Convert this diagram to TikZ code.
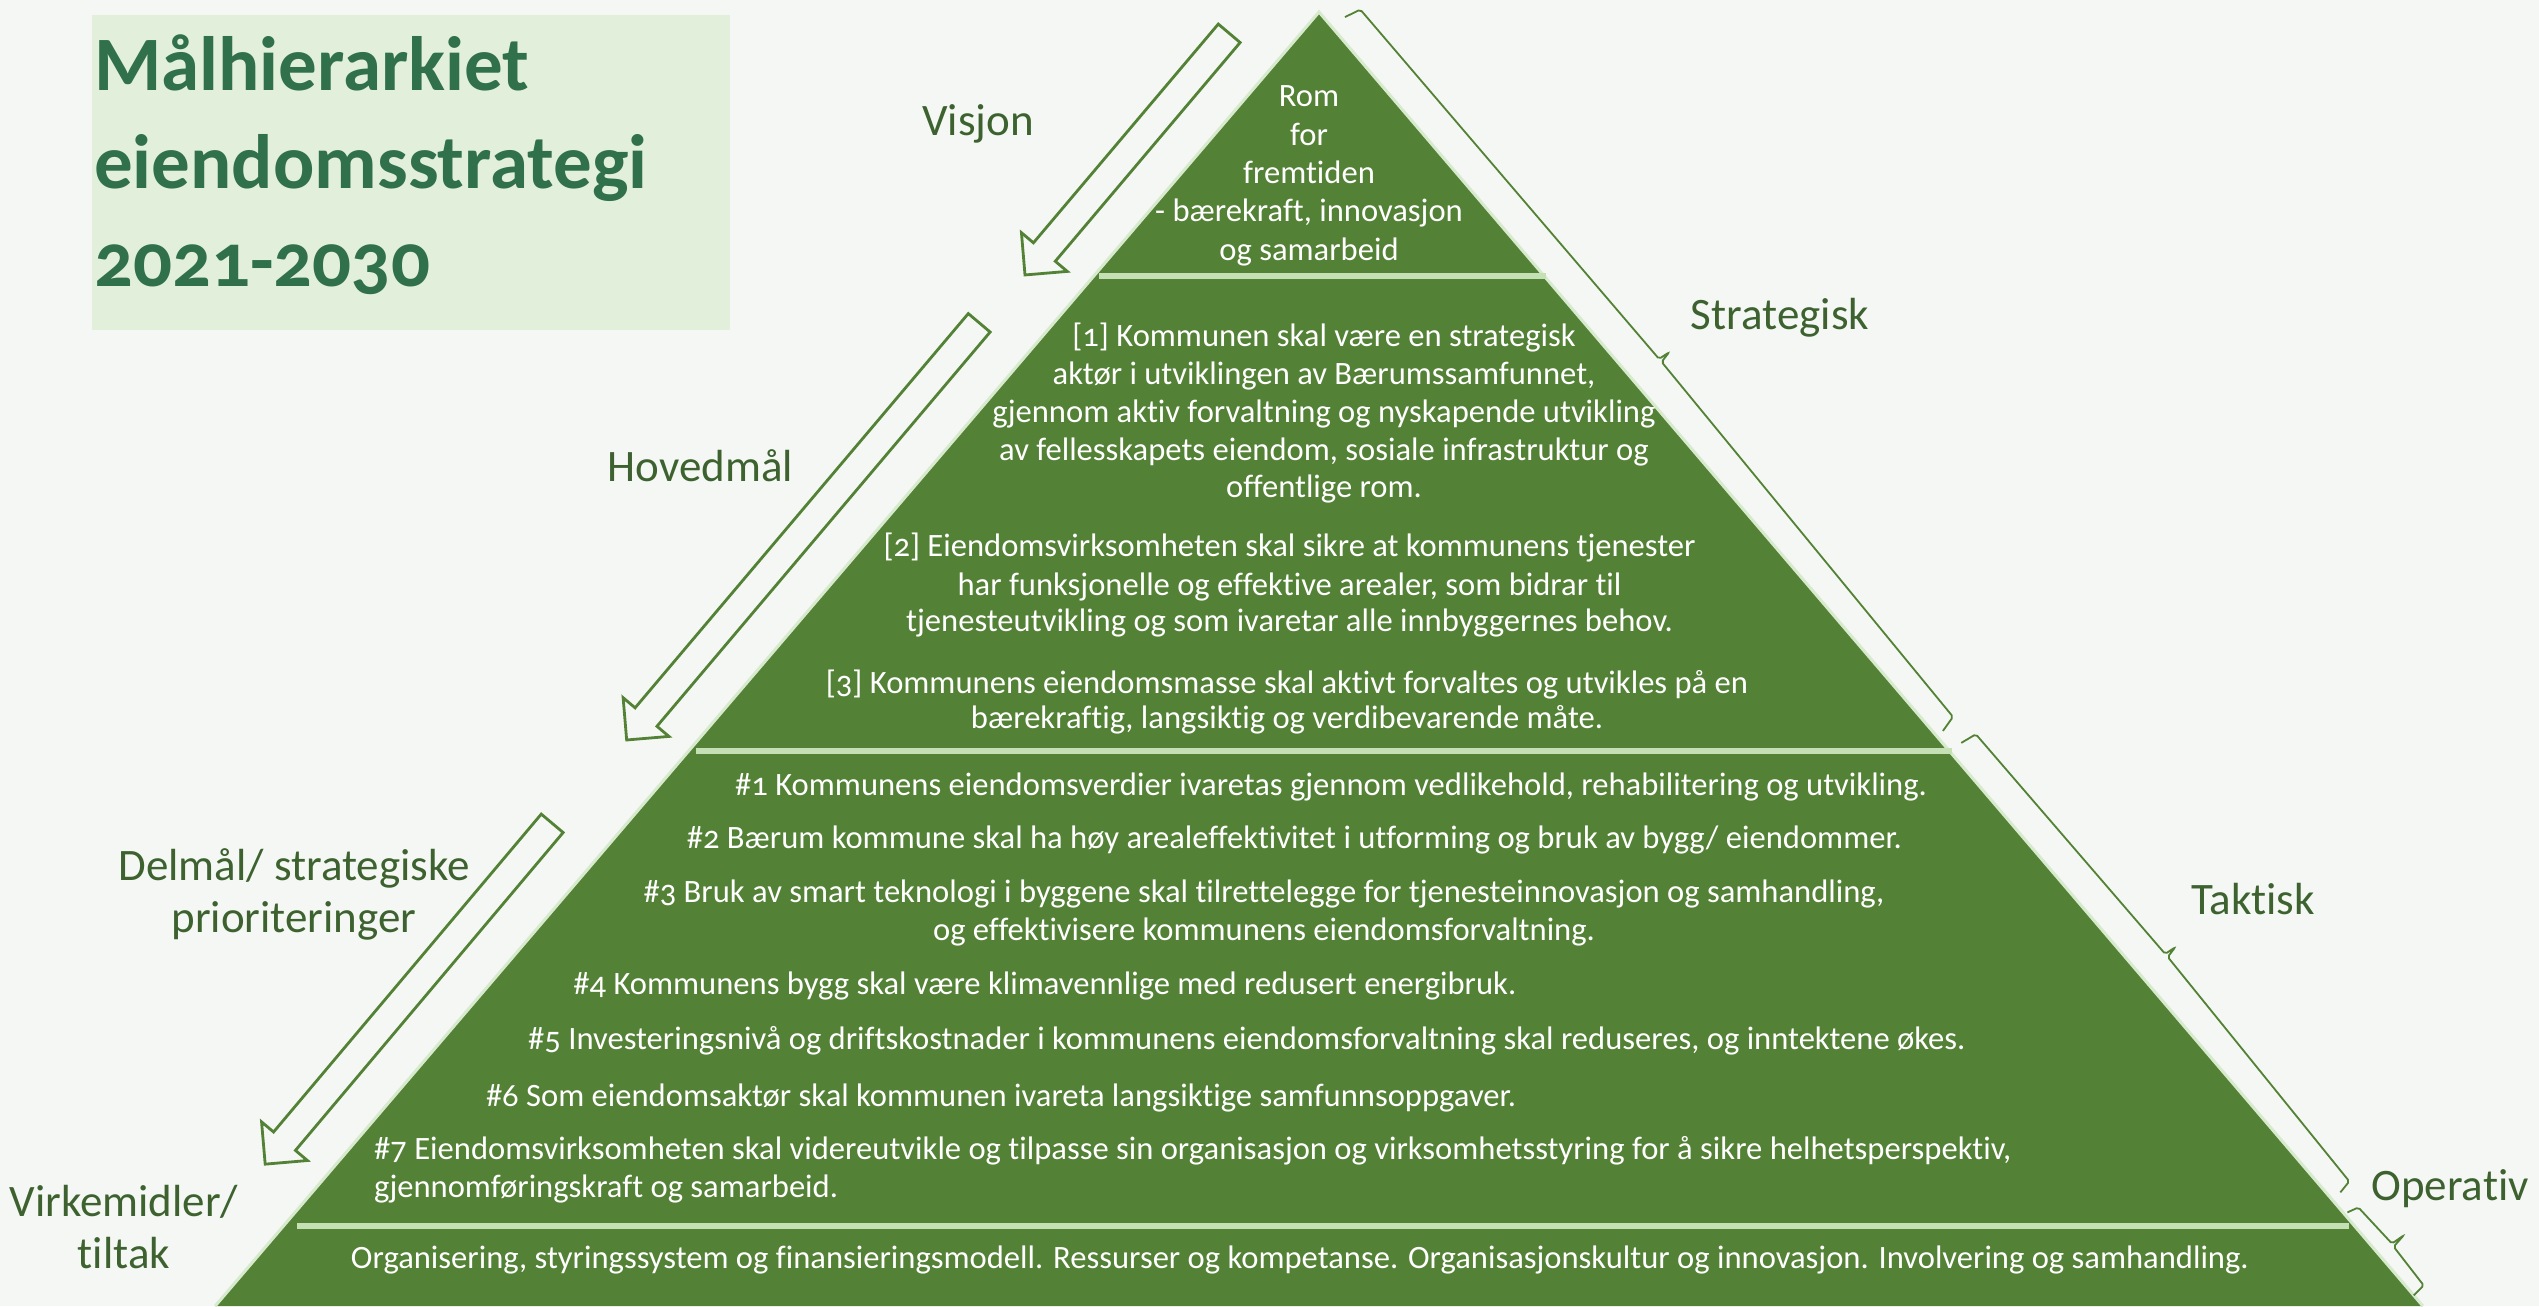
\documentclass[tikz,border=0pt]{standalone}
\usepackage{fontspec}
\setmainfont{Carlito}[Numbers=OldStyle, Ligatures={NoCommon,NoRare,NoContextual}]
\usetikzlibrary{calc}
\definecolor{bg}{HTML}{F4F7F3}
\definecolor{titlebox}{HTML}{E2EFDA}
\definecolor{titlegreen}{HTML}{30704A}
\definecolor{labelgreen}{HTML}{3D6230}
\definecolor{pyr}{HTML}{538135}
\definecolor{sep}{HTML}{C5E0B4}
\definecolor{pyredge}{HTML}{D8EACE}
\begin{document}
\begin{tikzpicture}[x=1pt,y=-1pt,
  tri/.style={white, font=\fontsize{32.6}{38}\selectfont, inner sep=0pt, anchor=base},
  triw/.style={tri, anchor=base west},
  lbl/.style={labelgreen, font=\fontsize{45}{52}\selectfont, inner sep=0pt, anchor=base},
  ttl/.style={titlegreen, font=\fontsize{77}{98}\selectfont\bfseries, inner sep=0pt, anchor=base west},
  sepline/.style={sep, line width=6pt},
  blockarrow/.style={draw=pyr, line width=2.8pt, fill=bg, line join=miter},
  bracestyle/.style={draw=pyr, line width=1.8pt, rounded corners=2pt},
]
\useasboundingbox (0,0) rectangle (2539,1306);
\fill[bg] (0,0) rectangle (2539,1306);

% title
\fill[titlebox] (92,15) rectangle (730,330);
\node[ttl] (t1) at (94,90) {Målhierarkiet};
\node[ttl] (t2) at (94,188.3) {eiendomsstrategi};
\node[ttl] (t3) at (94,286.7) {2021-2030};

% pyramid
\fill[pyr] (1319,12) -- (2422.8,1306) -- (215.2,1306) -- cycle;
\draw[pyredge, line width=3pt] (215.2,1306) -- (1319,12) -- (2422.8,1306);
\draw[sepline] (1099,276) -- (1546,276);
\draw[sepline] (696,751) -- (1952,751);
\draw[sepline] (297,1226) -- (2349,1226);

% vision
\node[tri] (v1) at (1309,106.7) {Rom};
\node[tri] (v2) at (1309,145) {for};
\node[tri] (v3) at (1309,183.3) {fremtiden};
\node[tri] (v4) at (1309,221.7) {- bærekraft, innovasjon};
\node[tri] (v5) at (1309,260) {og samarbeid};

% main goals
\node[tri] (h11) at (1324,346) {[1] Kommunen skal være en strategisk};
\node[tri] (h12) at (1324,384) {aktør i utviklingen av Bærumssamfunnet,};
\node[tri] (h13) at (1324,422) {gjennom aktiv forvaltning og nyskapende utvikling};
\node[tri] (h14) at (1324,460) {av fellesskapets eiendom, sosiale infrastruktur og};
\node[tri] (h15) at (1324,497) {offentlige rom.};
\node[tri] (h21) at (1289.5,556.7) {[2] Eiendomsvirksomheten skal sikre at kommunens tjenester};
\node[tri] (h22) at (1289.5,595) {har funksjonelle og effektive arealer, som bidrar til};
\node[tri] (h23) at (1289.5,631.7) {tjenesteutvikling og som ivaretar alle innbyggernes behov.};
\node[tri] (h31) at (1287,693.3) {[3] Kommunens eiendomsmasse skal aktivt forvaltes og utvikles på en};
\node[tri] (h32) at (1287,728.3) {bærekraftig, langsiktig og verdibevarende måte.};

% sub goals
\node[triw] (d1) at (735,795) {\#1 Kommunens eiendomsverdier ivaretas gjennom vedlikehold, rehabilitering og utvikling.};
\node[triw] (d2) at (686.6,848) {\#2 Bærum kommune skal ha høy arealeffektivitet i utforming og bruk av bygg/ eiendommer.};
\node[tri] (d31) at (1264,902) {\#3 Bruk av smart teknologi i byggene skal tilrettelegge for tjenesteinnovasjon og samhandling,};
\node[tri] (d32) at (1264,940) {og effektivisere kommunens eiendomsforvaltning.};
\node[triw] (d4) at (573.2,994) {\#4 Kommunens bygg skal være klimavennlige med redusert energibruk.};
\node[triw] (d5) at (528,1049) {\#5 Investeringsnivå og driftskostnader i kommunens eiendomsforvaltning skal reduseres, og inntektene økes.};
\node[triw] (d6) at (485.8,1106) {\#6 Som eiendomsaktør skal kommunen ivareta langsiktige samfunnsoppgaver.};
\node[triw] (d71) at (374,1159) {\#7 Eiendomsvirksomheten skal videreutvikle og tilpasse sin organisasjon og virksomhetsstyring for å sikre helhetsperspektiv,};
\node[triw] (d72) at (374,1197) {gjennomføringskraft og samarbeid.};

% means
\node[tri] (m1) at (1300,1268) {Organisering, styringssystem og finansieringsmodell. Ressurser og kompetanse. Organisasjonskultur og innovasjon. Involvering og samhandling.};

% left labels
\node[lbl] (lv) at (978,135) {Visjon};
\node[lbl] (lh) at (700.4,481.7) {Hovedmål};
\node[lbl] (ld1) at (294,880) {Delmål/ strategiske};
\node[lbl] (ld2) at (294,932) {prioriteringer};
\node[lbl] (lt1) at (124,1216) {Virkemidler/};
\node[lbl] (lt2) at (124,1268) {tiltak};
% right labels
\node[lbl] (rs) at (1780,329) {Strategisk};
\node[lbl] (rt) at (2253,914) {Taktisk};
\node[lbl] (ro) at (2450,1200) {Operativ};

% arrows
\begin{scope}[shift={(1229.2,33.3)}, x=1pt, y=1pt, rotate=229.8]
\draw[blockarrow] (0,-14.3) -- (286.4,-14.3) -- (286.4,-30) -- (316.4,0) -- (286.4,30) -- (286.4,14.3) -- (0,14.3) -- cycle;
\end{scope}
\begin{scope}[shift={(979.2,322.8)}, x=1pt, y=1pt, rotate=229.8]
\draw[blockarrow] (0,-14.3) -- (516.2,-14.3) -- (516.2,-30) -- (546.2,0) -- (516.2,30) -- (516.2,14.3) -- (0,14.3) -- cycle;
\end{scope}
\begin{scope}[shift={(552.2,823.3)}, x=1pt, y=1pt, rotate=229.9]
\draw[blockarrow] (0,-14.3) -- (415.6,-14.3) -- (415.6,-30) -- (445.6,0) -- (415.6,30) -- (415.6,14.3) -- (0,14.3) -- cycle;
\end{scope}

% braces
\begin{scope}[shift={(1319,12)}, x={(0.649pt,-0.761pt)}, y={(0.761pt,0.649pt)}]
\draw[bracestyle] (20.7,16.5) -- (25,33) -- (484.5,33.6) -- (486,45.5) -- (488.5,33.6) -- (947.5,25) -- (951.7,8.2);
\draw[bracestyle] (972.7,14.4) -- (975.6,31.1) -- (1265.5,32.6) -- (1267,44.6) -- (1269.5,32.6) -- (1558,25.1) -- (1560.6,11.2);
\draw[bracestyle] (1580.4,3.5) -- (1583.7,15.1) -- (1633,17.2) -- (1634.4,31.4) -- (1636.5,16.5) -- (1685.5,14.2) -- (1686.6,0.1);
\end{scope}
\end{tikzpicture}
\end{document}
